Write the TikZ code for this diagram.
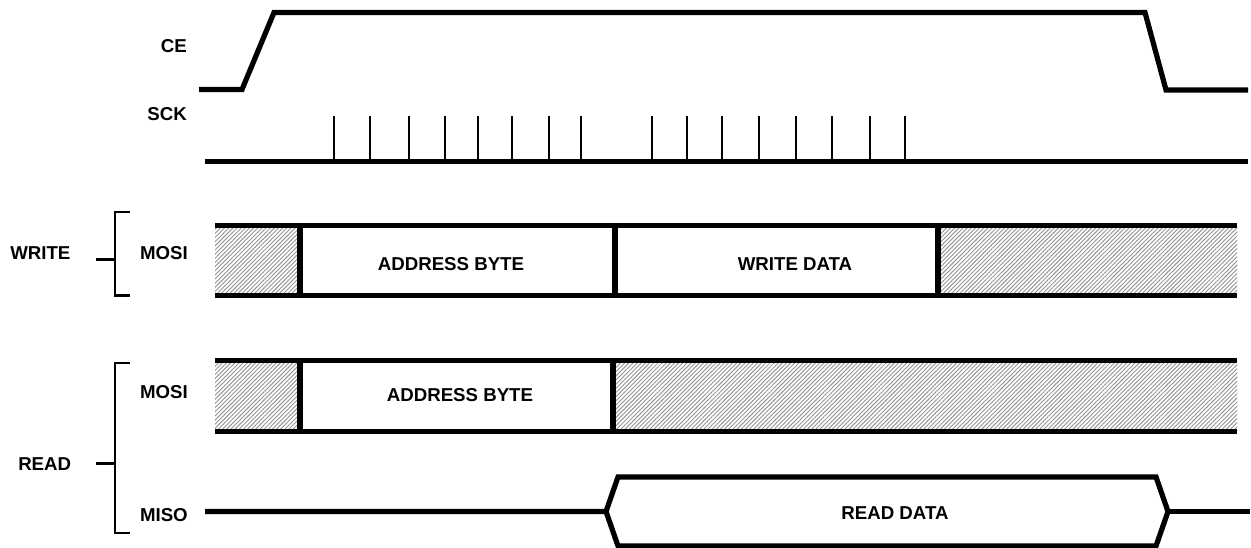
\documentclass[tikz,border=0pt]{standalone}
\usepackage{fontspec}
\setmainfont{Liberation Sans}
\usetikzlibrary{patterns.meta}
\begin{document}
\begin{tikzpicture}[x=0.75pt,y=-0.75pt,
  sig/.style={line width=3.9pt, line join=miter},
  tickln/.style={line width=1.6pt},
  brk/.style={line width=2.2pt},
  hatch/.style={pattern={Lines[angle=45,distance=2.2pt,line width=0.7pt]}, pattern color=gray!85},
  lbl/.style={font=\fontsize{14}{16}\selectfont\bfseries, inner sep=0pt}]
\useasboundingbox (0,0) rectangle (1251,548);

% labels
\node[lbl, anchor=east] (ce) at (187,46) {CE};
\node[lbl, anchor=east] (sck) at (187,114) {SCK};
\node[lbl, anchor=east] (wmosi) at (188,253) {MOSI};
\node[lbl, anchor=east] (rmosi) at (188,392) {MOSI};
\node[lbl, anchor=east] (miso) at (188,515) {MISO};
\node[lbl, anchor=west] (write) at (10,253) {WRITE};
\node[lbl, anchor=west] (read) at (18,464) {READ};

% CE
\draw[sig] (199,89.5) -- (242,89.5) -- (274,12.5) -- (1145,12.5) -- (1166,90) -- (1248,90);

% SCK
\draw[sig] (205,161.5) -- (1248,161.5);
\foreach \x in {334,370,409,445,478,512,549,581,652,687,722,759,796,832,870,905}
  \draw[tickln] (\x,160) -- (\x,116);

% brackets
\draw[brk] (130,212) -- (115,212) -- (115,295.5) -- (130,295.5);
\draw[brk] (96,259.5) -- (115,259.5);
\draw[brk] (130,363) -- (115,363) -- (115,533) -- (130,533);
\draw[brk] (96,463.5) -- (115,463.5);

% WRITE MOSI bus
\fill[hatch] (215,225.5) rectangle (300,295.5);
\fill[hatch] (938,225.5) rectangle (1237,295.5);
\draw[sig] (215,225.5) -- (1237,225.5);
\draw[sig] (215,295.5) -- (1237,295.5);
\draw[sig] (300,225.5) -- (300,295.5);
\draw[sig] (615,225.5) -- (615,295.5);
\draw[sig] (938,225.5) -- (938,295.5);
\node[lbl] (waddr) at (451,264) {ADDRESS BYTE};
\node[lbl] (wdata) at (795,264) {WRITE DATA};

% READ MOSI bus
\fill[hatch] (215,360.5) rectangle (300,431.5);
\fill[hatch] (613,360.5) rectangle (1237,431.5);
\draw[sig] (215,360.5) -- (1237,360.5);
\draw[sig] (215,431.5) -- (1237,431.5);
\draw[sig] (300,360.5) -- (300,431.5);
\draw[sig] (613,360.5) -- (613,431.5);
\node[lbl] (raddr) at (460,395) {ADDRESS BYTE};

% MISO
\draw[sig] (205,511.5) -- (606,511.5) -- (618,477) -- (1156,477) -- (1168,511.5) -- (1156,546) -- (618,546) -- (606,511.5);
\draw[sig] (1168,511.5) -- (1250,511.5);
\node[lbl] (rdata) at (895,513) {READ DATA};
\end{tikzpicture}
\end{document}
